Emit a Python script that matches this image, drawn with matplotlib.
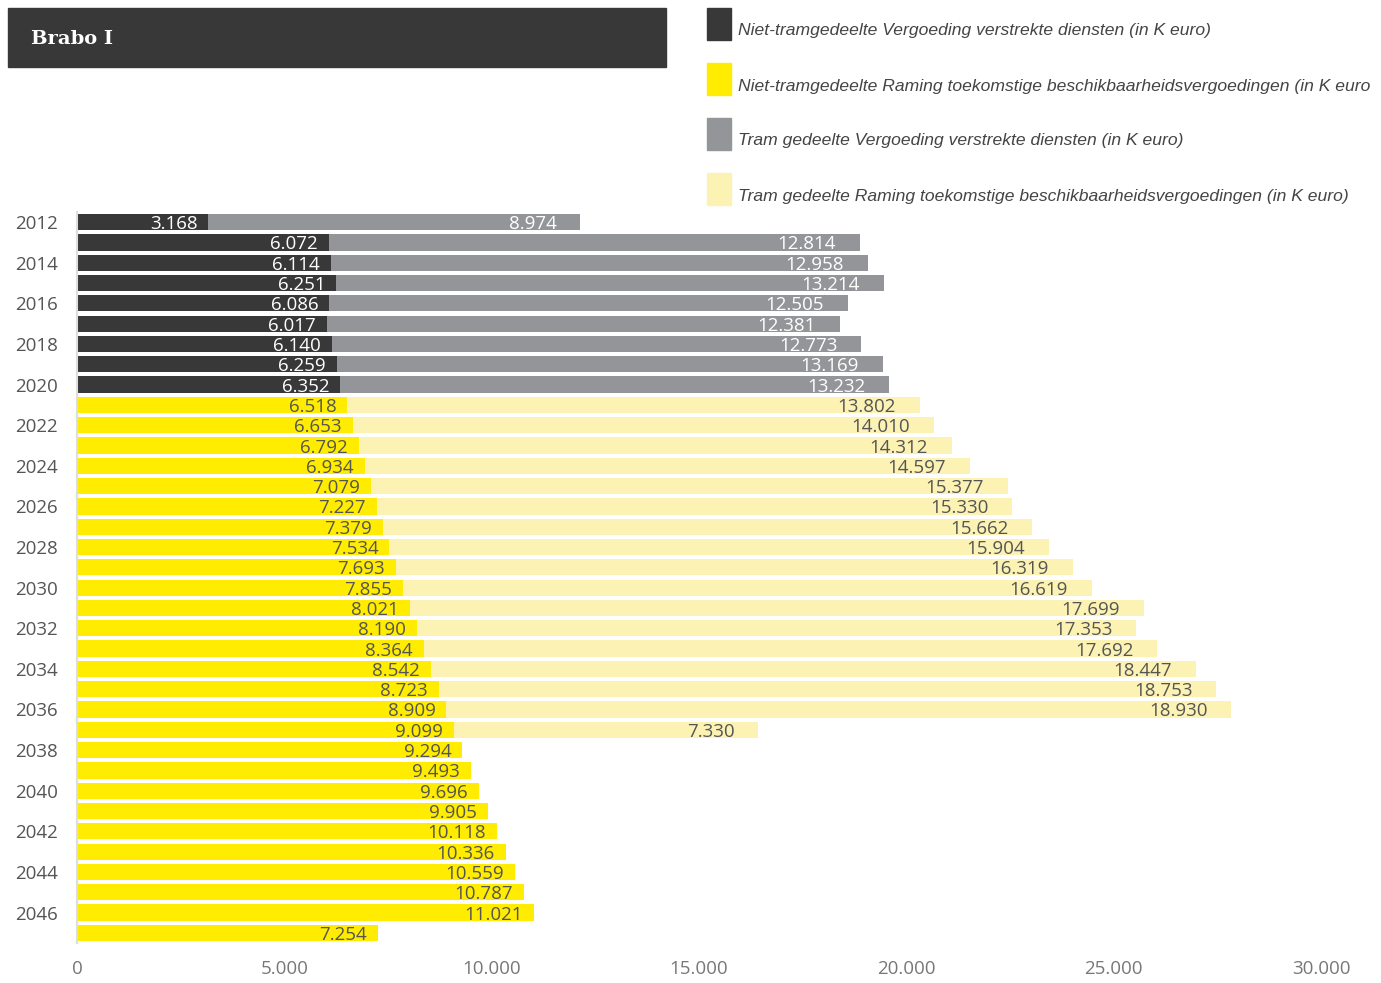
import matplotlib
matplotlib.use("Agg")
import matplotlib.pyplot as plt
from matplotlib.patches import Rectangle

# ---- data (K euro) ----
years = list(range(2012, 2048))

niet_tram_verstrekt = [3168, 6072, 6114, 6251, 6086, 6017, 6140, 6259, 6352]
tram_verstrekt = [8974, 12814, 12958, 13214, 12505, 12381, 12773, 13169, 13232]

niet_tram_raming = [6518, 6653, 6792, 6934, 7079, 7227, 7379, 7534, 7693, 7855,
                    8021, 8190, 8364, 8542, 8723, 8909, 9099, 9294, 9493, 9696,
                    9905, 10118, 10336, 10559, 10787, 11021, 7254]
tram_raming = [13802, 14010, 14312, 14597, 15377, 15330, 15662, 15904, 16319,
               16619, 17699, 17353, 17692, 18447, 18753, 18930, 7330]

legend_labels = [
    "Niet-tramgedeelte Vergoeding verstrekte diensten (in K euro)",
    "Niet-tramgedeelte Raming toekomstige beschikbaarheidsvergoedingen (in K euro",
    "Tram gedeelte Vergoeding verstrekte diensten (in K euro)",
    "Tram gedeelte Raming toekomstige beschikbaarheidsvergoedingen (in K euro)",
]
xticks = [0, 5000, 10000, 15000, 20000, 25000, 30000]

DARK = "#383838"
YELLOW = "#FFEC00"
GREY = "#939598"
LIGHT = "#FBF2B3"
TXT = "#555555"
legend_colors = [DARK, YELLOW, GREY, LIGHT]

W, H = 1381, 983
NUM_FONT = ["Open Sans", "DejaVu Sans"]
LEG_FONT = ["Liberation Sans", "DejaVu Sans"]


def fmt(v):
    return f"{v:,}".replace(",", ".")


fig = plt.figure(figsize=(W / 100, H / 100), dpi=100)
ax = fig.add_axes([77 / W, 1 - 943 / H, (1321 - 77) / W, 731 / H])

n_done = len(niet_tram_verstrekt)
pos_done = list(range(n_done))
pos_rm = list(range(n_done, n_done + len(niet_tram_raming)))
pos_tram_rm = pos_rm[:len(tram_raming)]
bh = 0.8

ax.barh(pos_done, niet_tram_verstrekt, height=bh, color=DARK)
ax.barh(pos_done, tram_verstrekt, left=niet_tram_verstrekt, height=bh, color=GREY)
ax.barh(pos_rm, niet_tram_raming, height=bh, color=YELLOW)
ax.barh(pos_tram_rm, tram_raming, left=niet_tram_raming[:len(tram_raming)],
        height=bh, color=LIGHT)


def label(y, xend, v, color, off):
    ax.annotate(fmt(v), (xend, y), xytext=(-off, -2), textcoords="offset pixels",
                ha="right", va="center", fontsize=13.5, color=color,
                family=NUM_FONT)


for p, a, b in zip(pos_done, niet_tram_verstrekt, tram_verstrekt):
    label(p, a, a, "white", 11)
    label(p, a + b, b, "white", 24)
for p, a in zip(pos_rm, niet_tram_raming):
    label(p, a, a, TXT, 11)
for p, a, b in zip(pos_tram_rm, niet_tram_raming, tram_raming):
    label(p, a + b, b, TXT, 24)

ax.set_ylim(len(years) - 0.5, -0.5)
ax.set_xlim(0, 30000)
for s in ["top", "right", "bottom"]:
    ax.spines[s].set_visible(False)
ax.spines["left"].set_color("#dddddd")
ax.spines["left"].set_linewidth(1.5)

ax.set_yticks([i for i, y in enumerate(years) if y % 2 == 0])
ax.set_yticklabels([str(y) for y in years if y % 2 == 0], family=NUM_FONT,
                   fontsize=13.5, color=TXT)
ax.set_xticks(xticks)
ax.set_xticklabels([fmt(v) for v in xticks], family=NUM_FONT, fontsize=13.5,
                   color="#777777")
ax.tick_params(axis="both", length=0)
ax.tick_params(axis="y", pad=14)
ax.tick_params(axis="x", pad=12)

# title box
fig.patches.append(Rectangle((8 / W, 1 - 67 / H), (666 - 8) / W, 59 / H,
                             transform=fig.transFigure, color=DARK))
fig.text(31 / W, 1 - 39 / H, "Brabo I", color="white", fontsize=14,
         fontweight="bold", family=["DejaVu Serif"], va="center", ha="left")

# legend
for i, (lab, col) in enumerate(zip(legend_labels, legend_colors)):
    top = 8 + i * 55
    fig.patches.append(Rectangle((707 / W, 1 - (top + 32) / H), 24 / W, 32 / H,
                                 transform=fig.transFigure, color=col))
    fig.text(738 / W, 1 - (top + 23) / H, lab, color="#444444", fontsize=12.6,
             style="italic", family=LEG_FONT, va="center", ha="left")

fig.savefig("out.png", dpi=100)
